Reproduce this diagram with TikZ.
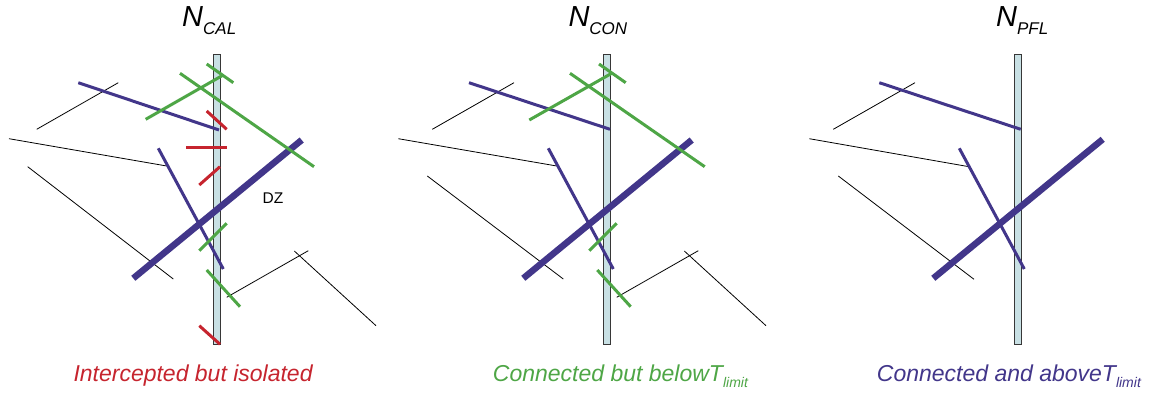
\documentclass[tikz,border=0pt]{standalone}
\usepackage{fontspec}
\setmainfont{Liberation Sans}
\definecolor{fred}{RGB}{198,36,46}
\definecolor{fgreen}{RGB}{78,166,70}
\definecolor{fblue}{RGB}{66,54,138}
\definecolor{wellfill}{RGB}{200,224,228}
\definecolor{wellline}{RGB}{55,55,55}
\tikzset{
  frac/.style={line width=0.8pt, black},
  bluefrac/.style={line width=3pt, fblue},
  bigfrac/.style={line width=6.5pt, fblue},
  greenfrac/.style={line width=3pt, fgreen},
  redfrac/.style={line width=3pt, fred},
  wellbox/.style={draw=wellline, fill=wellfill, line width=0.9pt},
  title/.style={anchor=base west, inner sep=0pt, font=\itshape},
  caption/.style={anchor=base west, inner sep=0pt, font=\itshape\fontsize{23}{26}\selectfont},
}
\newcommand{\ttl}[2]{\fontsize{29}{30}\selectfont #1\raisebox{-8pt}{\fontsize{17}{18}\selectfont #2}}
\newcommand{\tlim}{T\raisebox{-6pt}{\fontsize{14}{15}\selectfont limit}}
\begin{document}
\begin{tikzpicture}[x=1pt,y=-1pt]
\useasboundingbox (0,0) rectangle (1152,398);
% ---------- panel 1 ----------
\node[title] (t1) at (182,26.7) {\ttl{N}{CAL}};
\draw[wellbox] (213,54.5) rectangle (220,344);
\draw[frac] (36.7,129.3) -- (118.3,82.7);
\draw[frac] (9,138.7) -- (166.7,166);
\draw[frac] (27.7,166.7) -- (173.3,279);
\draw[frac] (226.7,297.3) -- (308.3,250.7);
\draw[frac] (294.3,251) -- (376,325.7);
\draw[bluefrac] (78.3,82.7) -- (219,130);
\draw[bluefrac] (158.3,148.3) -- (223.3,269);
\draw[bigfrac] (133.3,278.3) -- (301.7,140);
\draw[greenfrac] (145.7,119.3) -- (223.3,75);
\draw[greenfrac] (206.7,64) -- (233.3,82.7);
\draw[greenfrac] (180,73.3) -- (314,166.7);
\draw[greenfrac] (199.3,250.7) -- (226.7,223.3);
\draw[greenfrac] (206.7,270) -- (240,306.7);
\draw[redfrac] (206.7,111) -- (226.7,129.3);
\draw[redfrac] (186,147.7) -- (226.7,147.7);
\draw[redfrac] (199.3,185) -- (220,166.7);
\draw[redfrac] (199.3,325.7) -- (220,344.3);
\node[inner sep=0pt, font=\fontsize{15.5}{17}\selectfont] (dz) at (273,198.5) {DZ};
\node[caption, text=fred] (c1) at (73.3,381.7) {Intercepted but isolated};
% ---------- panel 2 ----------
\node[title] (t2) at (568.3,26.7) {\ttl{N}{CON}};
\draw[wellbox] (603.3,54.5) rectangle (610.3,344);
\draw[frac] (432.3,129.3) -- (514,82.7);
\draw[frac] (398.3,138.7) -- (556.7,166);
\draw[frac] (427.3,176) -- (563.3,279);
\draw[frac] (616.7,297.3) -- (698.3,250.7);
\draw[frac] (684.3,251) -- (766,325.7);
\draw[bluefrac] (469,82.7) -- (610,129.3);
\draw[bluefrac] (548.3,148.3) -- (613.3,269);
\draw[bigfrac] (523.3,278.3) -- (691.7,140);
\draw[greenfrac] (529.3,120) -- (611.7,73.3);
\draw[greenfrac] (599,64) -- (625.7,82.7);
\draw[greenfrac] (570,73.3) -- (704.7,166.7);
\draw[greenfrac] (589.3,250.7) -- (616.7,223.3);
\draw[greenfrac] (597.3,270) -- (630.7,306.7);
\node[caption, text=fgreen] (c2) at (492.7,381.7) {Connected but below\tlim};
% ---------- panel 3 ----------
\node[title] (t3) at (996,26.7) {\ttl{N}{PFL}};
\draw[wellbox] (1014.3,54.5) rectangle (1021.3,344);
\draw[frac] (833.3,129.3) -- (915,82.7);
\draw[frac] (809.3,138.7) -- (969,166.7);
\draw[frac] (838.3,176) -- (974,279.3);
\draw[bluefrac] (879.3,82.7) -- (1020.7,129.3);
\draw[bluefrac] (959.3,148.3) -- (1024.3,269);
\draw[bigfrac] (933.3,278.3) -- (1102.7,139.3);
\node[caption, text=fblue] (c3) at (876.7,381.7) {Connected and above\tlim};
\end{tikzpicture}
\end{document}
